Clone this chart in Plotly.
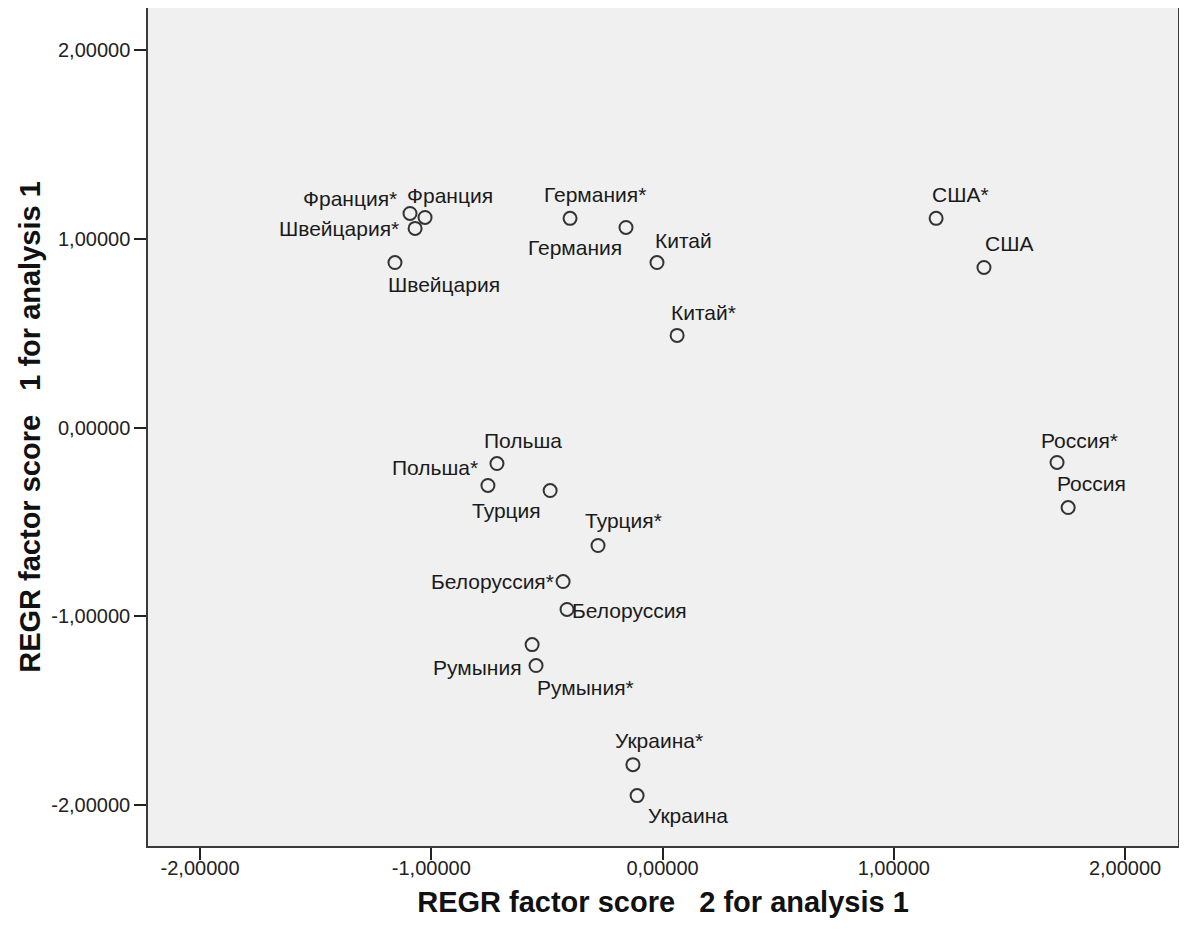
import plotly.graph_objects as go

# ---- data ----
labels = ["Франция*", "Франция", "Швейцария*", "Швейцария", "Германия*", "Германия",
          "Китай", "Китай*", "США*", "США", "Россия*", "Россия", "Польша", "Польша*",
          "Турция", "Турция*", "Белоруссия*", "Белоруссия", "Румыния", "Румыния*",
          "Украина*", "Украина"]
factor2 = [-1.092, -1.027, -1.070, -1.157, -0.400, -0.158, -0.024, 0.063, 1.183, 1.390,
           1.706, 1.754, -0.716, -0.755, -0.486, -0.279, -0.430, -0.413, -0.564, -0.547,
           -0.128, -0.110]
factor1 = [1.134, 1.113, 1.055, 0.874, 1.108, 1.060, 0.874, 0.488, 1.108, 0.848,
           -0.185, -0.424, -0.191, -0.307, -0.334, -0.625, -0.816, -0.964, -1.150, -1.261,
           -1.786, -1.950]
tick_vals = [-2, -1, 0, 1, 2]
tick_text = ["-2,00000", "-1,00000", "0,00000", "1,00000", "2,00000"]
x_title = "REGR factor score\u00a0\u00a0\u00a02 for analysis 1"
y_title = "REGR factor score\u00a0\u00a0\u00a01 for analysis 1"

# label placement (style): anchor side, x shift px, y shift px
label_anchor = ["right", "left", "right", "left", "left", "right", "left", "left", "left", "left",
                "left", "left", "left", "right", "right", "left", "right", "left", "right", "left",
                "left", "left"]
label_dx = [-11, -20, -14, -9, -28, -2, -4, -8, -6, -1, -18, -13, -15, -8, -7, -15, -7, 3, -8, -1, -20, 9]
label_dy = [15, 22, 0, -22, 24, -20, 22, 23, 24, 24, 22, 24, 23, 18, -20, 25, 0, -1, -23, -22, 24, -20]

FONT = "Liberation Sans, Arial, sans-serif"

fig = go.Figure()
fig.add_trace(go.Scatter(
    x=factor2, y=factor1, mode="markers",
    marker=dict(symbol="circle-open", size=13, color="#333333", line=dict(width=2)),
    hoverinfo="text", text=labels, showlegend=False,
))

for lab, xv, yv, anc, dx, dy in zip(labels, factor2, factor1, label_anchor, label_dx, label_dy):
    fig.add_annotation(x=xv, y=yv, text=lab, showarrow=False, xanchor=anc, yanchor="middle",
                       xshift=dx, yshift=dy,
                       font=dict(family=FONT, size=21, color="#1a1a1a"))

axis_common = dict(
    tickvals=tick_vals, ticktext=tick_text, showgrid=False, zeroline=False,
    showline=True, mirror=True, linecolor="#3a3a3a", linewidth=1.5,
    ticks="outside", ticklen=12, tickwidth=1.5, tickcolor="#222222",
    tickfont=dict(family=FONT, size=20, color="#222222"),
    automargin=False,
)

title_font = dict(family=FONT, size=29, color="#111111", weight="bold")

fig.update_layout(
    width=1187, height=942,
    margin=dict(l=140, r=17, t=0, b=104),
    paper_bgcolor="white", plot_bgcolor="#f0f0f0",
    xaxis=dict(range=[-2.225, 2.229], ticklabelstandoff=-9,
               title=dict(text=x_title, standoff=14, font=title_font), **axis_common),
    yaxis=dict(range=[-2.217, 2.2225],
               title=dict(text=y_title, standoff=2, font=title_font), **axis_common),
)

fig.write_html("out.html")
